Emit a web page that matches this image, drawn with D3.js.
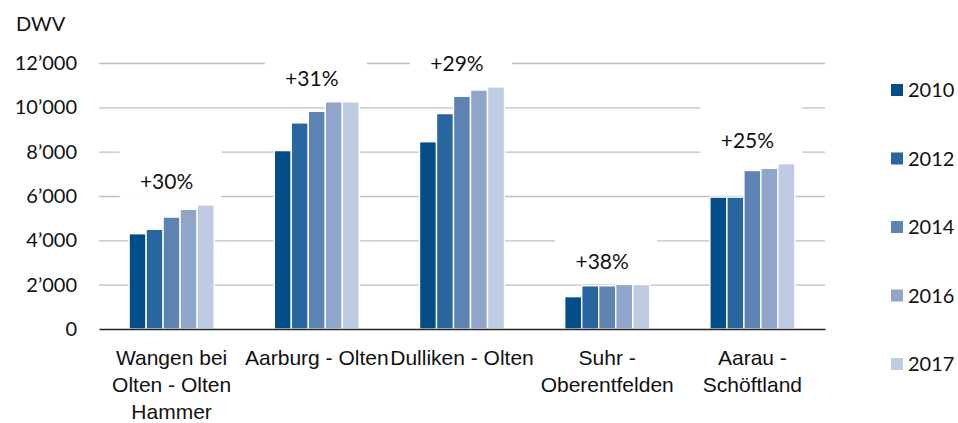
<!DOCTYPE html>
<html>
<head>
<meta charset="utf-8">
<script src="https://cdn.jsdelivr.net/npm/d3@7"></script>
<style>
  body { margin: 0; background: #fff; }
  svg { display: block; font-family: Lato, 'Liberation Sans', sans-serif; }
</style>
</head>
<body>
<svg id="chart" width="958" height="423"></svg>
<script>
// data
const categories = ['Wangen bei Olten - Olten Hammer', 'Aarburg - Olten', 'Dulliken - Olten', 'Suhr - Oberentfelden', 'Aarau - Schöftland'];
const categoryLines = [['Wangen bei', 'Olten - Olten', 'Hammer'], ['Aarburg - Olten'], ['Dulliken - Olten'], ['Suhr -', 'Oberentfelden'], ['Aarau -', 'Schöftland']];
const years = ['2010', '2012', '2014', '2016', '2017'];
const values2010 = [4300, 8050, 8450, 1460, 5950];
const values2012 = [4500, 9300, 9720, 1950, 5950];
const values2014 = [5050, 9820, 10500, 1950, 7150];
const values2016 = [5400, 10250, 10780, 2010, 7250];
const values2017 = [5600, 10250, 10920, 2010, 7460];
const growthLabels = ['+30%', '+31%', '+29%', '+38%', '+25%'];
const yTicks = [0, 2000, 4000, 6000, 8000, 10000, 12000];
const yLabel = 'DWV';

const seriesValues = [values2010, values2012, values2014, values2016, values2017];
const colors = ['#034e88', '#2966a0', '#5d83b3', '#8fa5ca', '#bfcae3'];

const margin = { top: 63, right: 133, bottom: 94, left: 99 };
const width = 958 - margin.left - margin.right;
const height = 423 - margin.top - margin.bottom;

const svg = d3.select('#chart');
const g = svg.append('g').attr('transform', `translate(${margin.left},${margin.top})`);

const locale = d3.formatLocale({ decimal: '.', thousands: '\u2019', grouping: [3], currency: ['', ''] });
const fmt = locale.format(',');

const x0 = d3.scaleBand().domain(categories).range([0, width]).padding(0);
const x1 = d3.scaleBand().domain(years).range([0, x0.bandwidth()]).paddingInner(0).paddingOuter(1.77);
const y = d3.scaleLinear().domain([0, 12000]).range([height, 0]);

// grid lines
g.append('g')
  .call(d3.axisLeft(y).tickValues(yTicks.filter((d) => d > 0)).tickSize(-width).tickFormat(''))
  .call((s) => s.select('.domain').remove())
  .selectAll('line')
  .attr('stroke', '#c0c0c0')
  .attr('stroke-width', 1.3);

// y tick labels
g.append('g')
  .call(d3.axisLeft(y).tickValues(yTicks).tickSize(0).tickPadding(22).tickFormat(fmt))
  .call((s) => s.select('.domain').remove())
  .selectAll('text')
  .attr('fill', '#111')
  .style('font-size', '20px')
  .style('font-family', "Lato, 'Liberation Sans', sans-serif");

// white boxes behind growth labels
const labelY = (i) => y(d3.max(seriesValues, (s) => s[i])) - 23;
const labelX = (i) => x0(categories[i]) + x0.bandwidth() / 2 - 5;
g.append('g')
  .selectAll('rect')
  .data(growthLabels)
  .join('rect')
  .attr('x', (d, i) => labelX(i) + 4 - 51)
  .attr('y', (d, i) => labelY(i) - 34)
  .attr('width', 102)
  .attr('height', 50)
  .attr('fill', '#fff');

// bars
const groups = g.append('g')
  .selectAll('g')
  .data(categories)
  .join('g')
  .attr('transform', (d) => `translate(${x0(d)},0)`);

groups
  .selectAll('rect')
  .data((d, i) => years.map((yr, j) => ({ year: yr, value: seriesValues[j][i], color: colors[j] })))
  .join('rect')
  .attr('x', (d) => x1(d.year))
  .attr('y', (d) => y(d.value))
  .attr('width', x1.bandwidth())
  .attr('height', (d) => height - y(d.value))
  .attr('fill', (d) => d.color)
  .attr('stroke', '#fff')
  .attr('stroke-width', 1.4);

// baseline + category labels
const xAxis = g.append('g')
  .attr('transform', `translate(0,${height})`)
  .call(d3.axisBottom(x0).tickSize(0).tickFormat(''));
xAxis.select('.domain').attr('stroke', '#262626').attr('stroke-width', 1.6);
xAxis.selectAll('.tick text').remove();
xAxis.selectAll('.tick')
  .append('text')
  .attr('fill', '#111')
  .attr('text-anchor', 'middle')
  .style('font-size', '21px')
  .each(function (d, i) {
    const t = d3.select(this);
    categoryLines[i].forEach((line, k) => {
      t.append('tspan').attr('x', 0).attr('y', 36 + k * 27).text(line);
    });
  });

// growth labels
g.append('g')
  .selectAll('text')
  .data(growthLabels)
  .join('text')
  .attr('x', (d, i) => labelX(i))
  .attr('y', (d, i) => labelY(i))
  .attr('dy', '0.35em')
  .attr('text-anchor', 'middle')
  .attr('fill', '#111')
  .style('font-size', '21px')
  .text((d) => d);

// axis title
svg.append('text')
  .attr('x', 16)
  .attr('y', 24)
  .attr('dy', '0.35em')
  .attr('fill', '#111')
  .style('font-size', '20px')
  .text(yLabel);

// legend
const legend = svg.append('g').attr('transform', 'translate(891,90)');
const legendItems = legend
  .selectAll('g')
  .data(years)
  .join('g')
  .attr('transform', (d, i) => `translate(0,${i * 68.5})`);
legendItems.append('rect')
  .attr('x', 0)
  .attr('y', -6)
  .attr('width', 12)
  .attr('height', 12)
  .attr('fill', (d, i) => colors[i]);
legendItems.append('text')
  .attr('x', 17)
  .attr('dy', '0.35em')
  .attr('fill', '#111')
  .style('font-size', '20px')
  .text((d) => d);
</script>
</body>
</html>
